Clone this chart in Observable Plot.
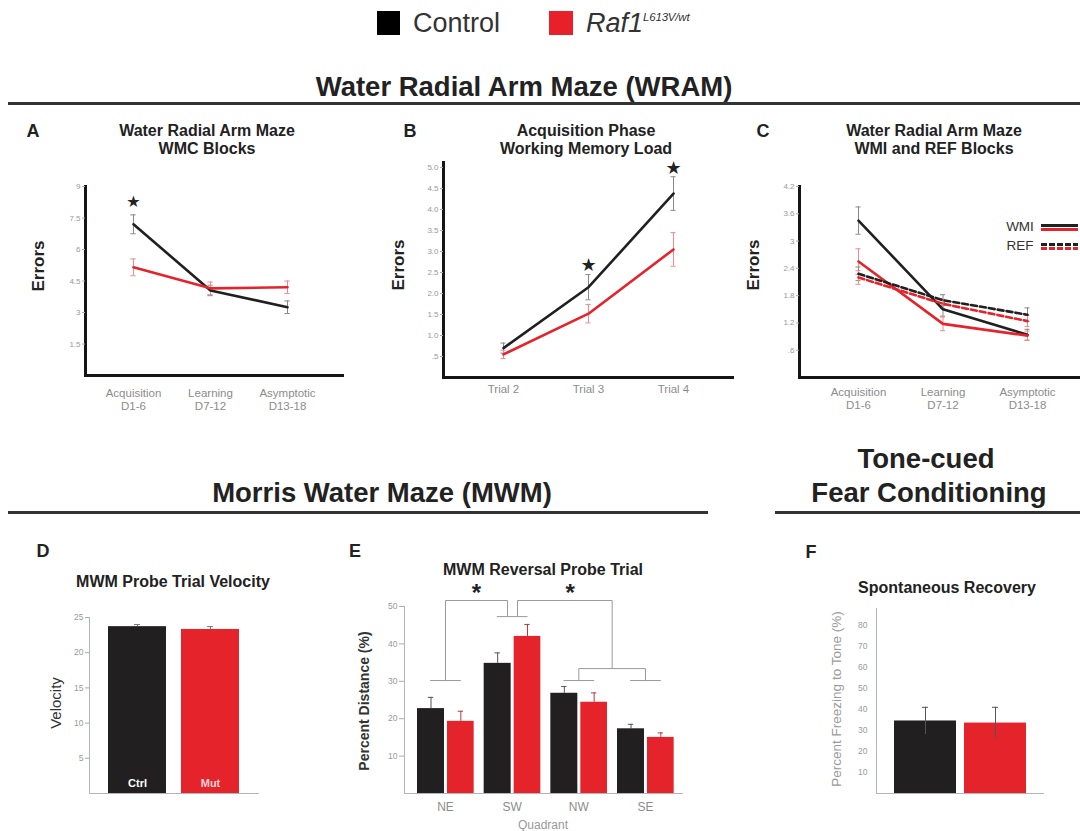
<!DOCTYPE html>
<html>
<head>
<meta charset="utf-8">
<script src="https://cdn.jsdelivr.net/npm/d3@7"></script>
<script src="https://cdn.jsdelivr.net/npm/@observablehq/plot@0.6"></script>
<style>
  html, body { margin: 0; padding: 0; background: #fff; }
  body { width: 1080px; height: 831px; position: relative; overflow: hidden;
         font-family: "Liberation Sans", Arial, Helvetica, sans-serif; }
  .rule { position: absolute; background: #333; }
</style>
</head>
<body>
<script>
// ---------------- DATA ----------------
const groupNames = ["Control", "Raf1"];
const groupColors = ["#221f20", "#e5232b"];

// Panel A – WMC blocks
const wramBlocks = ["Acquisition\nD1-6", "Learning\nD7-12", "Asymptotic\nD13-18"];
const wmcControl = [7.2, 4.05, 3.25];
const wmcControlSE = [0.45, 0.25, 0.3];
const wmcMutant = [5.15, 4.15, 4.2];
const wmcMutantSE = [0.4, 0.3, 0.3];
const wmcStars = [1, 0, 0];
const wmcTicks = [1.5, 3, 4.5, 6, 7.5, 9];
const wmcTickLabels = ["1.5", "3", "4.5", "6", "7.5", "9"];

// Panel B – working memory load
const trials = ["Trial 2", "Trial 3", "Trial 4"];
const loadControl = [0.7, 2.15, 4.38];
const loadControlSE = [0.12, 0.3, 0.4];
const loadMutant = [0.55, 1.52, 3.05];
const loadMutantSE = [0.1, 0.22, 0.4];
const loadStars = [0, 1, 1];
const loadTicks = [0.5, 1, 1.5, 2, 2.5, 3, 3.5, 4, 4.5, 5];
const loadTickLabels = [".5", "1.0", "1.5", "2.0", "2.5", "3.0", "3.5", "4.0", "4.5", "5.0"];

// Panel C – WMI and REF blocks
const wmiControl = [3.45, 1.5, 0.94];
const wmiControlSE = [0.3, 0.15, 0.12];
const wmiMutant = [2.55, 1.18, 0.92];
const wmiMutantSE = [0.28, 0.15, 0.1];
const refControl = [2.28, 1.7, 1.38];
const refControlSE = [0.15, 0.12, 0.15];
const refMutant = [2.2, 1.62, 1.24];
const refMutantSE = [0.15, 0.1, 0.12];
const wmiTicks = [0.6, 1.2, 1.8, 2.4, 3, 3.6, 4.2];
const wmiTickLabels = [".6", "1.2", "1.8", "2.4", "3", "3.6", "4.2"];

// Panel D – probe trial velocity
const velocityGroups = ["Ctrl", "Mut"];
const velocityValues = [23.7, 23.3];
const velocitySE = [0.3, 0.4];
const velocityTicks = [5, 10, 15, 20, 25];

// Panel E – reversal probe trial
const probeQuadrants = ["NE", "SW", "NW", "SE"];
const probeControl = [22.7, 34.8, 26.8, 17.3];
const probeControlSE = [3.0, 2.8, 1.8, 1.2];
const probeMutant = [19.3, 42.0, 24.4, 15.0];
const probeMutantSE = [2.7, 3.2, 2.5, 1.2];
const probeTicks = [10, 20, 30, 40, 50];

// Panel F – spontaneous recovery
const fearValues = [34.5, 33.5];
const fearSE = [6.5, 7.5];
const fearTicks = [10, 20, 30, 40, 50, 60, 70, 80];

// ---------------- HELPERS ----------------
const FONT = '"Liberation Sans", Arial, Helvetica, sans-serif';
const color = {domain: groupNames, range: groupColors};

function mount(frame, pad, options) {
  const [x0, y0, x1, y1] = frame;
  const [pt, pr, pb, pl] = pad;
  const svg = Plot.plot({
    ...options,
    width: x1 - x0 + pl + pr,
    height: y1 - y0 + pt + pb,
    marginTop: pt, marginRight: pr, marginBottom: pb, marginLeft: pl,
    style: {fontFamily: FONT, background: "transparent", overflow: "visible"}
  });
  svg.style.position = "absolute";
  svg.style.left = (x0 - pl) + "px";
  svg.style.top = (y0 - pt) + "px";
  svg.style.maxWidth = "none";
  document.body.appendChild(svg);
}

function text(html, x, y, css = "", rotate = false, start = false) {
  const d = document.createElement("div");
  d.innerHTML = html;
  d.style.cssText = `position:absolute;left:${x}px;top:${y}px;transform:translate(${start ? "0" : "-50%"},-50%)${rotate ? " rotate(-90deg)" : ""};white-space:nowrap;line-height:1;font-family:${FONT};${css}`;
  document.body.appendChild(d);
  return d;
}

function rule(x, y, w, h) {
  const d = document.createElement("div");
  d.className = "rule";
  d.style.cssText += `left:${x}px;top:${y}px;width:${w}px;height:${h}px;`;
  document.body.appendChild(d);
}

function lineRows(series) {
  const rows = [];
  series.forEach(s => s.values.forEach((v, i) =>
    rows.push({i: i + 1, v, e: s.se[i], g: s.group, s: s.name})));
  return rows;
}

function linePanel(cfg) {
  const rows = lineRows(cfg.series);
  const marks = [];
  for (const s of cfg.series) {
    const r = rows.filter(d => d.s === s.name);
    marks.push(Plot.ruleX(r, {x: "i", y1: d => d.v - d.e, y2: d => d.v + d.e, stroke: s.err, strokeWidth: 1}));
    marks.push(Plot.ruleY(r, {y: d => d.v + d.e, x1: d => d.i - cfg.cap, x2: d => d.i + cfg.cap, stroke: s.err, strokeWidth: 1}));
    marks.push(Plot.ruleY(r, {y: d => d.v - d.e, x1: d => d.i - cfg.cap, x2: d => d.i + cfg.cap, stroke: s.err, strokeWidth: 1}));
  }
  for (const s of cfg.series) {
    marks.push(Plot.line(rows.filter(d => d.s === s.name),
      {x: "i", y: "v", stroke: "g", strokeWidth: 2.6, strokeDasharray: s.dash || null}));
  }
  if (cfg.stars) {
    const starRows = rows.filter(d => d.s === cfg.series[0].name && cfg.stars[d.i - 1]);
    marks.push(Plot.text(starRows, {x: "i", y: d => d.v + d.e, text: () => "★", dy: cfg.starDy,
      fontSize: cfg.starSize, fill: "#222", fontFamily: "DejaVu Sans"}));
  }
  marks.push(Plot.frame({anchor: "left", stroke: "#151515", strokeWidth: 3}));
  marks.push(Plot.frame({anchor: "bottom", stroke: "#151515", strokeWidth: 3}));
  marks.push(Plot.axisY({ticks: cfg.yTicks, tickFormat: (d, k) => cfg.yTickLabels[k], label: null,
    tickSize: 3, tickPadding: 2, fontSize: 8, fill: "#999", stroke: "#aaa"}));
  marks.push(Plot.axisX({ticks: [1, 2, 3], tickFormat: i => cfg.categories[i - 1], label: null,
    tickSize: 0, tickPadding: cfg.xPad, fontSize: 11.5, fill: "#8c8c8c", lineHeight: 1.12}));
  mount(cfg.frame, cfg.pad, {
    x: {type: "linear", domain: cfg.xDomain},
    y: {domain: cfg.yDomain},
    color,
    marks
  });
}

// ---------------- PAGE TEXT ----------------
// Top legend
const sw1 = document.createElement("div");
sw1.style.cssText = "position:absolute;left:377px;top:11px;width:23px;height:24px;background:#000;";
document.body.appendChild(sw1);
text("Control", 413, 23, "font-size:27px;color:#333;", false, true);
const sw2 = document.createElement("div");
sw2.style.cssText = "position:absolute;left:549px;top:11px;width:24px;height:24px;background:#e8202a;";
document.body.appendChild(sw2);
text('Raf1<span style="font-size:11.5px;position:relative;top:-11px;letter-spacing:-0.2px;">L613V/wt</span>', 586, 23,
  "font-size:27px;color:#333;font-style:italic;", false, true);

// Section headings
const secCss = "font-size:27.5px;font-weight:bold;color:#222;";
text("Water Radial Arm Maze (WRAM)", 524, 87, secCss);
rule(8, 102, 1072, 3);
text("Morris Water Maze (MWM)", 382, 493, secCss);
rule(8, 511, 700, 3);
text("Tone-cued", 926, 459, secCss);
text("Fear Conditioning", 929, 493, secCss);
rule(775, 511, 305, 3);

// Panel letters
const letterCss = "font-size:18px;font-weight:bold;color:#222;";
text("A", 33, 131, letterCss);
text("B", 410, 131, letterCss);
text("C", 763, 131, letterCss);
text("D", 43, 551, letterCss);
text("E", 355, 551, letterCss);
text("F", 811, 552, letterCss);

// Panel titles
const titleCss = "font-size:16px;font-weight:bold;color:#222;";
text("Water Radial Arm Maze", 207, 131, titleCss);
text("WMC Blocks", 207, 149, titleCss);
text("Acquisition Phase", 586, 131, titleCss);
text("Working Memory Load", 586, 149, titleCss);
text("Water Radial Arm Maze", 934, 131, titleCss);
text("WMI and REF Blocks", 934, 149, titleCss);
text("MWM Probe Trial Velocity", 173, 582, titleCss);
text("MWM Reversal Probe Trial", 543, 570, titleCss);
text("Spontaneous Recovery", 947, 588, titleCss);

// Axis titles
const errCss = "font-size:17px;font-weight:bold;color:#222;";
text("Errors", 38, 266, errCss, true);
text("Errors", 398, 265, errCss, true);
text("Errors", 753, 265, errCss, true);
text("Velocity", 55, 703, "font-size:15px;color:#333;", true);
text("Percent Distance (%)", 364, 701, "font-size:14px;font-weight:bold;color:#333;", true);
text("Percent Freezing to Tone (%)", 837, 699, "font-size:13.5px;color:#9a9a9a;", true);
text("Quadrant", 543, 825, "font-size:12px;color:#999;");

// Panel C legend (series line styles)
text("WMI", 1020, 227, "font-size:13.5px;color:#333;");
text("REF", 1020, 246, "font-size:13.5px;color:#333;");
function swatch(top, col, dashed) {
  const d = document.createElement("div");
  d.style.cssText = `position:absolute;left:1041px;top:${top}px;width:37px;height:3px;` +
    (dashed ? `background:repeating-linear-gradient(90deg, ${col} 0 6px, transparent 6px 8px);` : `background:${col};`);
  document.body.appendChild(d);
}
swatch(224, groupColors[0], false);
swatch(228, groupColors[1], false);
swatch(243, groupColors[0], true);
swatch(247, groupColors[1], true);

// ---------------- PANEL A ----------------
linePanel({
  frame: [85, 186, 342, 375], pad: [30, 10, 50, 60],
  xDomain: [0.377, 3.714], yDomain: [0, 9],
  yTicks: wmcTicks, yTickLabels: wmcTickLabels,
  categories: wramBlocks, xPad: 12, cap: 0.035,
  series: [
    {name: "c", group: "Control", values: wmcControl, se: wmcControlSE, err: "#888"},
    {name: "m", group: "Raf1", values: wmcMutant, se: wmcMutantSE, err: "#f08a8a"}
  ],
  stars: wmcStars, starDy: -13, starSize: 16
});

// ---------------- PANEL B ----------------
linePanel({
  frame: [443, 162, 732, 377], pad: [20, 10, 30, 40],
  xDomain: [0.294, 3.694], yDomain: [0, 5.12],
  yTicks: loadTicks, yTickLabels: loadTickLabels,
  categories: trials, xPad: 6, cap: 0.03,
  series: [
    {name: "c", group: "Control", values: loadControl, se: loadControlSE, err: "#888"},
    {name: "m", group: "Raf1", values: loadMutant, se: loadMutantSE, err: "#f08a8a"}
  ],
  stars: loadStars, starDy: -9, starSize: 18
});

// ---------------- PANEL C ----------------
linePanel({
  frame: [799, 186, 1080, 377], pad: [20, 0, 50, 40],
  xDomain: [0.302, 3.627], yDomain: [0, 4.2],
  yTicks: wmiTicks, yTickLabels: wmiTickLabels,
  categories: wramBlocks, xPad: 9, cap: 0.03,
  series: [
    {name: "wc", group: "Control", values: wmiControl, se: wmiControlSE, err: "#888"},
    {name: "wm", group: "Raf1", values: wmiMutant, se: wmiMutantSE, err: "#f08a8a"},
    {name: "rc", group: "Control", values: refControl, se: refControlSE, err: "#888", dash: "6,3"},
    {name: "rm", group: "Raf1", values: refMutant, se: refMutantSE, err: "#f08a8a", dash: "6,3"}
  ]
});

// ---------------- PANEL D ----------------
const velRows = velocityGroups.map((g, k) => ({g, c: groupNames[k], v: velocityValues[k], e: velocitySE[k]}));
mount([89, 617, 258, 793], [10, 10, 20, 30], {
  x: {type: "band", domain: velocityGroups, paddingInner: 0.2, paddingOuter: 0.25, axis: null},
  y: {domain: [0, 25]},
  color,
  marks: [
    Plot.ruleX(velRows, {x: "g", y1: "v", y2: d => d.v + d.e, stroke: "#777", strokeWidth: 1}),
    Plot.tickY(velRows, {x: "g", y: d => d.v + d.e, stroke: "#777", insetLeft: 26, insetRight: 26}),
    Plot.barY(velRows, {x: "g", y: "v", fill: "c"}),
    Plot.text(velRows, {x: "g", y: 0, text: "g", dy: -10, fontSize: 11, fontWeight: "bold",
      fill: (d) => d.c === "Control" ? "#ffffff" : "#ffd6d6"}),
    Plot.frame({anchor: "left", stroke: "#b5b5b5", strokeWidth: 1}),
    Plot.frame({anchor: "bottom", stroke: "#b5b5b5", strokeWidth: 1}),
    Plot.axisY({ticks: velocityTicks, label: null, tickSize: 4, tickPadding: 2, fontSize: 8.5, fill: "#999", stroke: "#aaa"})
  ]
});

// ---------------- PANEL E ----------------
const probeRows = probeQuadrants.flatMap((q, i) => [
  {i, q, c: "Control", v: probeControl[i], e: probeControlSE[i]},
  {i, q, c: "Raf1", v: probeMutant[i], e: probeMutantSE[i]}
]);
const barSide = {Control: [-0.42, -0.015], Raf1: [0.03, 0.43]};
// significance brackets, built from quadrant indices
const capLow = 30.2, joinMid = 33.4, capSW = 47.3, joinTop = 51.6, capHalf = 0.23;
const seg = [];
[0, 2, 3].forEach(i => seg.push([i - capHalf, capLow, i + capHalf, capLow]));
seg.push([1 - capHalf, capSW, 1 + capHalf, capSW]);
seg.push([0, capLow, 0, joinTop]);
seg.push([0, joinTop, 0.93, joinTop]);
seg.push([0.93, capSW, 0.93, joinTop]);
seg.push([1.08, capSW, 1.08, joinTop]);
seg.push([1.08, joinTop, 2.5, joinTop]);
seg.push([2.5, joinTop, 2.5, joinMid]);
seg.push([2, joinMid, 3, joinMid]);
seg.push([2, joinMid, 2, capLow]);
seg.push([3, joinMid, 3, capLow]);
const sigStars = [{x: (0 + 0.93) / 2, y: joinTop}, {x: (1.08 + 2.5) / 2 + 0.08, y: joinTop}];
mount([404, 606, 682, 793], [30, 10, 25, 30], {
  x: {type: "linear", domain: [-0.615, 3.555]},
  y: {domain: [0, 50]},
  color,
  marks: [
    Plot.ruleX(probeRows, {x: d => d.i + (barSide[d.c][0] + barSide[d.c][1]) / 2, y1: "v", y2: d => d.v + d.e,
      stroke: d => d.c === "Control" ? "#555" : "#b83a3a", strokeWidth: 1}),
    Plot.ruleY(probeRows, {y: d => d.v + d.e, x1: d => d.i + (barSide[d.c][0] + barSide[d.c][1]) / 2 - 0.04,
      x2: d => d.i + (barSide[d.c][0] + barSide[d.c][1]) / 2 + 0.04,
      stroke: d => d.c === "Control" ? "#555" : "#b83a3a", strokeWidth: 1}),
    Plot.rect(probeRows, {x1: d => d.i + barSide[d.c][0], x2: d => d.i + barSide[d.c][1], y1: 0, y2: "v", fill: "c"}),
    Plot.link(seg, {x1: d => d[0], y1: d => d[1], x2: d => d[2], y2: d => d[3], stroke: "#9a9a9a", strokeWidth: 1}),
    Plot.text(sigStars, {x: "x", y: "y", text: () => "*", dy: -7, fontSize: 24, fontWeight: "bold", fill: "#222"}),
    Plot.frame({anchor: "left", stroke: "#b5b5b5", strokeWidth: 1}),
    Plot.frame({anchor: "bottom", stroke: "#b5b5b5", strokeWidth: 1}),
    Plot.axisY({ticks: probeTicks, label: null, tickSize: 5, tickPadding: 2, fontSize: 8.5, fill: "#999", stroke: "#aaa"}),
    Plot.axisX({ticks: [0, 1, 2, 3], tickFormat: i => probeQuadrants[i], label: null, tickSize: 0, tickPadding: 9,
      fontSize: 12, fill: "#8c8c8c"})
  ]
});

// ---------------- PANEL F ----------------
const fearRows = groupNames.map((c, k) => ({c, v: fearValues[k], e: fearSE[k]}));
mount([876, 608, 1043, 793], [10, 10, 10, 30], {
  x: {type: "band", domain: groupNames, paddingInner: 0.12, paddingOuter: 0.25, axis: null},
  y: {domain: [0, 88]},
  color,
  marks: [
    Plot.barY(fearRows, {x: "c", y: "v", fill: "c"}),
    Plot.ruleX(fearRows, {x: "c", y1: d => d.v - d.e, y2: d => d.v + d.e, stroke: "#555", strokeWidth: 1}),
    Plot.tickY(fearRows, {x: "c", y: d => d.v + d.e, stroke: "#555", insetLeft: 28, insetRight: 28}),
    Plot.frame({anchor: "left", stroke: "#b5b5b5", strokeWidth: 1}),
    Plot.frame({anchor: "bottom", stroke: "#b5b5b5", strokeWidth: 1}),
    Plot.axisY({ticks: fearTicks, label: null, tickSize: 0, tickPadding: 9, fontSize: 8.5, fill: "#9a9a9a"})
  ]
});
</script>
</body>
</html>
